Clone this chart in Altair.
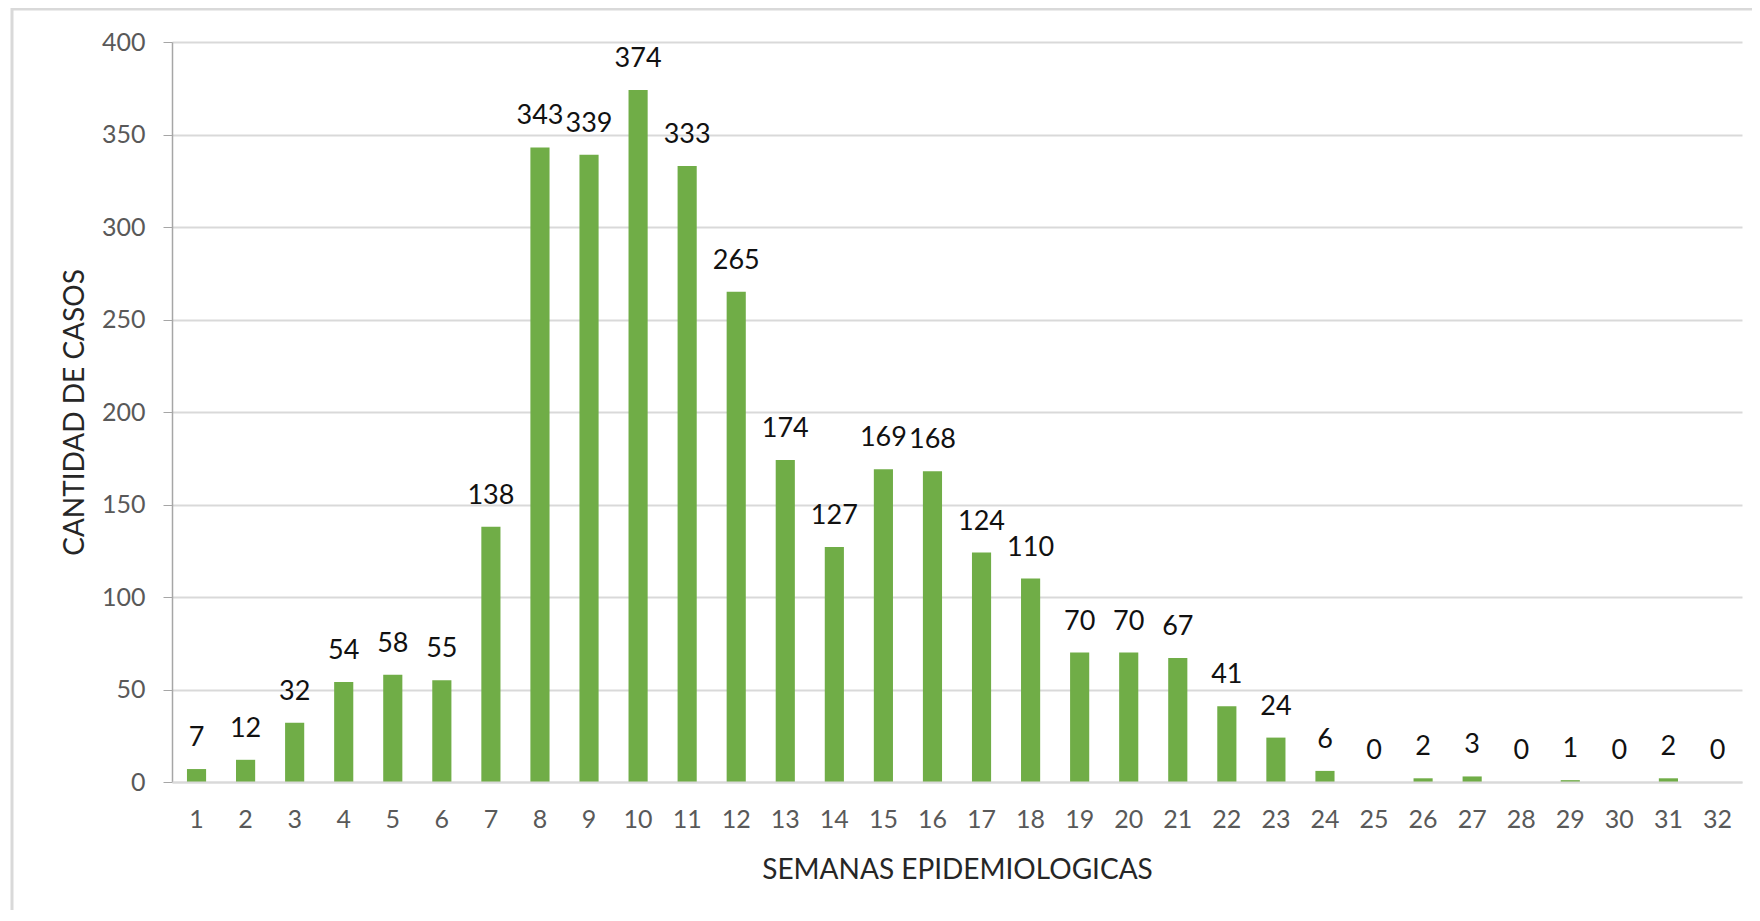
import altair as alt
import pandas as pd

semanas = [str(i) for i in range(1, 33)]
casos = [7, 12, 32, 54, 58, 55, 138, 343, 339, 374, 333, 265, 174, 127, 169, 168,
         124, 110, 70, 70, 67, 41, 24, 6, 0, 2, 3, 0, 1, 0, 2, 0]
y_ticks = [0, 50, 100, 150, 200, 250, 300, 350, 400]

df = pd.DataFrame({"semana": semanas, "casos": casos})

FONT = "Lato"
W, H = 1570, 740

x_enc = alt.X(
    "semana:N",
    sort=semanas,
    scale=alt.Scale(paddingInner=0.61, paddingOuter=0.305),
    axis=alt.Axis(
        title="SEMANAS EPIDEMIOLOGICAS",
        labelAngle=0,
        labelFont=FONT,
        labelFontSize=25,
        labelColor="#595959",
        labelPadding=25,
        ticks=False,
        tickSize=0,
        domainColor="#D9D9D9",
        domainWidth=2,
        zindex=1,
        titleFont=FONT,
        titleFontSize=28,
        titleFontWeight="normal",
        titleColor="#262626",
        titleBaseline="alphabetic",
        titleY=96,
        titleX=W / 2,
        titleAlign="center",
    ),
)

y_enc = alt.Y(
    "casos:Q",
    scale=alt.Scale(domain=[0, 400], nice=False),
    axis=alt.Axis(
        title="CANTIDAD DE CASOS",
        values=y_ticks,
        labelFont=FONT,
        labelFontSize=25,
        labelColor="#595959",
        labelPadding=18,
        tickSize=9,
        tickColor="#A6A6A6",
        domainColor="#A6A6A6",
        domainWidth=1.5,
        gridColor="#D9D9D9",
        gridWidth=2,
        titleFont=FONT,
        titleFontSize=28,
        titleFontWeight="normal",
        titleColor="#262626",
        titleBaseline="alphabetic",
        titleX=-89,
        titleY=H / 2,
        titleAlign="center",
        titleAngle=-90,
    ),
)

bars = alt.Chart(df).mark_bar(color="#70AD47").encode(x=x_enc, y=y_enc)

labels = alt.Chart(df).mark_text(
    dy=-23, baseline="alphabetic", align="center", font=FONT, fontSize=27, color="#111111"
).encode(x=alt.X("semana:N", sort=semanas), y="casos:Q", text="casos:Q")

frame = alt.Chart(pd.DataFrame({"a": [0]})).mark_rect(
    fill=None, stroke="#D9D9D9", strokeWidth=3
).encode(
    x=alt.value(-160), x2=alt.value(1700), y=alt.value(-33), y2=alt.value(1000)
)

chart = alt.layer(frame, bars, labels).properties(
    width=W,
    height=H,
    autosize=alt.AutoSizeParams(type="none"),
    padding={"left": 164, "top": 34, "right": 10, "bottom": 128},
).configure_view(stroke=None)

chart.save("out.html", embed_options={"renderer": "svg", "actions": False})
